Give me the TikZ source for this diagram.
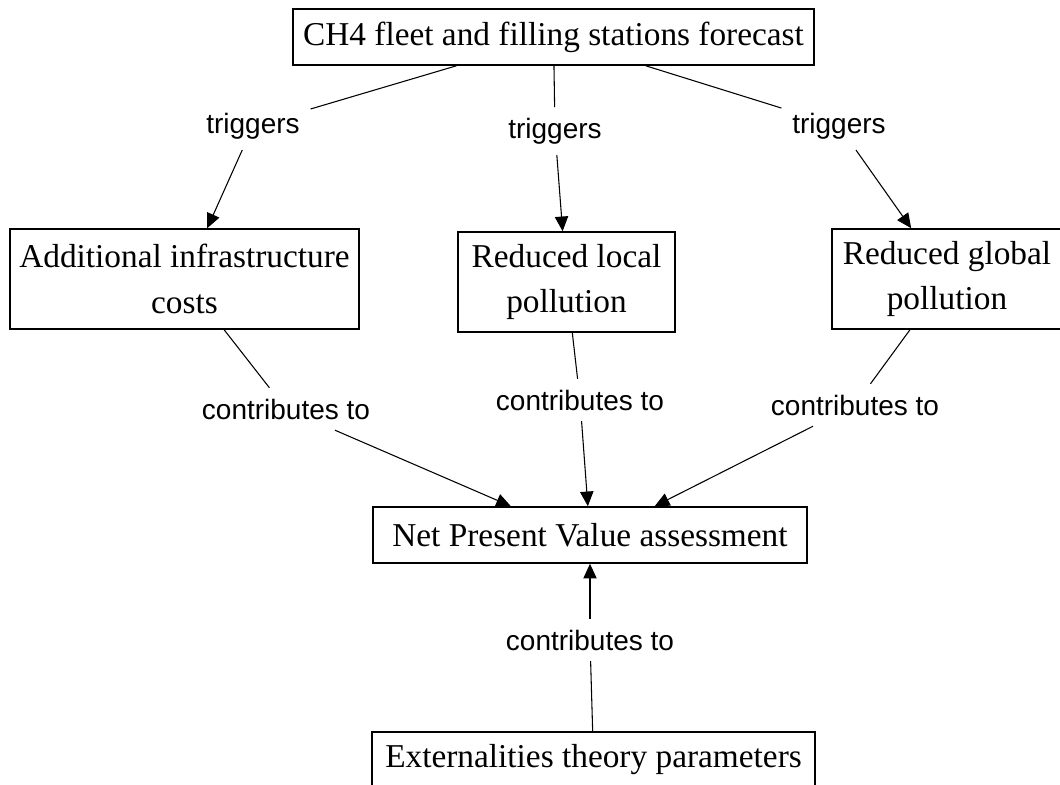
\documentclass[tikz,border=0pt]{standalone}
\usepackage{fontspec}
\setmainfont{Liberation Serif}
\newfontfamily\labelfont{Liberation Sans}
\usetikzlibrary{arrows.meta}

\begin{document}
\begin{tikzpicture}[x=0.75pt,y=0.75pt,yscale=-1,xscale=1,
  box/.style={draw, line width=1.2pt, inner sep=0pt, align=center, font=\fontsize{25}{34}\selectfont},
  lbl/.style={inner sep=8pt, font=\labelfont\fontsize{21}{25}\selectfont},
  link/.style={line width=0.8pt},
  arr/.style={line width=0.8pt, -{Triangle[length=11pt,width=10pt]}}]
%set diagram to the size of the page
\useasboundingbox (0,0) rectangle (1060,785);

%Shape: Rectangle [id:fcst]
\node (fcst) at (553.5,37) [box, minimum width=390.75pt, minimum height=42pt] {CH4 fleet and filling stations forecast};
%Shape: Rectangle [id:infra]
\node (infra) at (184.5,279) [box, minimum width=261.75pt, minimum height=75pt] {Additional infrastructure\\costs};
%Shape: Rectangle [id:local]
\node (local) at (566.5,282) [box, minimum width=162.75pt, minimum height=75pt] {Reduced local\\pollution};
%Shape: Rectangle [id:global]
\node (global) at (947,279) [box, minimum width=172.5pt, minimum height=75pt] {Reduced global\\pollution};
%Shape: Rectangle [id:npv]
\node (npv) at (590,535) [box, minimum width=325.5pt, minimum height=42pt] {Net Present Value assessment};
%Shape: Rectangle [id:ext]
\node (ext) at (593.5,760) [box, minimum width=332.25pt, minimum height=42pt] {Externalities theory parameters};

% Text Node
\node (trig1) at (253,126) [lbl] {triggers};
% Text Node
\node (trig2) at (555,131) [lbl] {triggers};
% Text Node
\node (trig3) at (839,126) [lbl] {triggers};
% Text Node
\node (con1) at (286,409) [lbl] {contributes to};
% Text Node
\node (con2) at (580,400) [lbl] {contributes to};
% Text Node
\node (con3) at (855,405) [lbl] {contributes to};
% Text Node
\node (con4) at (590,640) [lbl] {contributes to};

%Straight Lines
\draw [link] (fcst) -- (trig1);
\draw [arr] (trig1) -- (infra);
\draw [link] (fcst) -- (trig2);
\draw [arr] (trig2) -- (local);
\draw [link] (fcst) -- (trig3);
\draw [arr] (trig3) -- (global);

\draw [link] (infra) -- (con1);
\draw [arr] (con1) -- (npv.160);
\draw [link] (local) -- (con2);
\draw [arr] (con2) -- (npv);
\draw [link] (global) -- (con3);
\draw [arr] (con3) -- (npv.24);
\draw [link] (ext) -- (con4);
\draw [arr] (con4) -- (npv);

\end{tikzpicture}
\end{document}
